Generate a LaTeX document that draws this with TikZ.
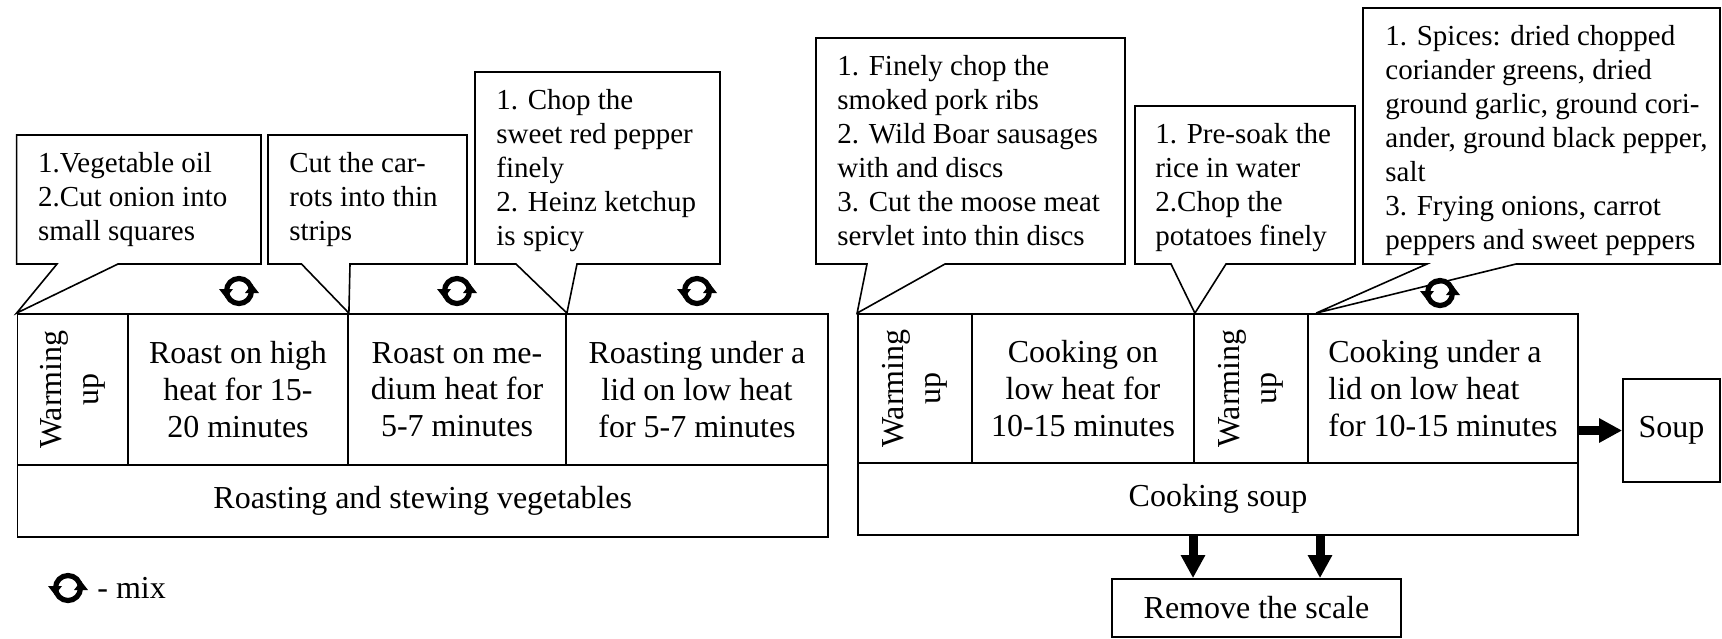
\documentclass[tikz,border=0pt]{standalone}
\usepackage{fontspec}
\setmainfont{LiberationSerif}[Extension=.ttf, UprightFont=*-Regular, BoldFont=*-Bold, ItalicFont=*-Italic]
\usetikzlibrary{arrows.meta}
\newcommand{\notefont}{\fontsize{14.5}{17}\selectfont}
\newcommand{\cellfont}{\fontsize{16}{18.4}\selectfont}
\begin{document}
\begin{tikzpicture}[x=0.5pt, y=-0.5pt,
  cell/.style={draw, line width=0.9pt, inner sep=0pt, align=center, font=\cellfont},
  warm/.style={rotate=90, inner sep=0pt, align=center, font=\cellfont},
  note/.style={anchor=north west, inner sep=0pt, align=left, font=\notefont},
  bubble/.style={draw, line width=0.8pt, line join=miter},
  fat/.style={line width=4.5pt, -{Triangle[length=11.5pt, width=11.5pt]}},
  mixicon/.pic={
    \draw[line width=2.6pt] (0,0) circle[radius=12.5];
    \fill (-20,-2) -- (-6,-2) -- (-13,7) -- cycle;
    \fill (20,2) -- (6,2) -- (13,-7) -- cycle;
  }
]
\useasboundingbox (0,0) rectangle (1722,638);
% roasting table
\node[cell, minimum width=55.25pt, minimum height=75.5pt] (lw) at (72.75,389.5) {};
\node[warm] (lwt) at (lw) {Warming\\up};
\node[cell, minimum width=110pt, minimum height=75.5pt] (l1) at (238,389.5) {Roast on high\\heat for 15-\\20 minutes};
\node[cell, minimum width=109pt, minimum height=75.5pt] (l2) at (457,389.5) {Roast on me-\\dium heat for\\5-7 minutes};
\node[cell, minimum width=131pt, minimum height=75.5pt] (l3) at (697,389.5) {Roasting under a\\lid on low heat\\for 5-7 minutes};
\node[cell, minimum width=405.25pt, minimum height=36pt] (lbar) at (422.75,501) {Roasting and stewing vegetables};
% soup table
\node[cell, minimum width=57pt, minimum height=74.5pt] (rw1) at (915,388.5) {};
\node[warm] (rw1t) at (rw1) {Warming\\up};
\node[cell, minimum width=111pt, minimum height=74.5pt] (r1) at (1083,388.5) {Cooking on\\low heat for\\10-15 minutes};
\node[cell, minimum width=57pt, minimum height=74.5pt] (rw2) at (1251,388.5) {};
\node[warm] (rw2t) at (rw2) {Warming\\up};
\node[cell, minimum width=135pt, minimum height=74.5pt, align=left] (r2) at (1443,388.5) {Cooking under a\\lid on low heat\\for 10-15 minutes};
\node[cell, minimum width=360pt, minimum height=36pt] (rbar) at (1218,499) {Cooking soup};
\node[cell, minimum width=48.5pt, minimum height=51.5pt] (soup) at (1671.5,430.5) {Soup};
\node[cell, minimum width=144.5pt, minimum height=29pt] (descale) at (1256.5,608) {Remove the scale};
\draw[fat] (r2.east |- soup.west) -- (soup.west);
\draw[fat] ([xshift=-31.75pt]descale.north |- rbar.south) -- ([xshift=-31.75pt]descale.north);
\draw[fat] ([xshift=31.75pt]descale.north |- rbar.south) -- ([xshift=31.75pt]descale.north);
% callouts
\draw[bubble] (16.6,135) -- (261,135) -- (261,264) -- (118,264) -- (lw.north west) -- (57,264) -- (16.6,264) -- cycle;
\node[note] (n1) at (37.6,152) {1.Vegetable oil\\2.Cut onion into\\small squares};
\draw[bubble] (268,135) -- (467,135) -- (467,264) -- (350,264) -- (l1.north east) -- (301.5,264) -- (268,264) -- cycle;
\node[note] (n2) at (289,152) {Cut the car-\\rots into thin\\strips};
\draw[bubble] (475,72) -- (720,72) -- (720,264) -- (577,264) -- (l2.north east) -- (516,264) -- (475,264) -- cycle;
\node[note] (n3) at (496,89) {1. Chop the\\sweet red pepper\\finely\\2. Heinz ketchup\\is spicy};
\draw[bubble] (816,38) -- (1125,38) -- (1125,264) -- (945,264) -- (rw1.north west) -- (867,264) -- (816,264) -- cycle;
\node[note] (n4) at (837,55) {1. Finely chop the\\smoked pork ribs\\2. Wild Boar sausages\\with and discs\\3. Cut the moose meat\\servlet into thin discs};
\draw[bubble] (1135,106) -- (1355,106) -- (1355,264) -- (1226,264) -- (r1.north east) -- (1171,264) -- (1135,264) -- cycle;
\node[note] (n5) at (1155,123) {1. Pre-soak the\\rice in water\\2.Chop the\\potatoes finely};
\draw[bubble] (1363,8) -- (1720,8) -- (1720,264) -- (1516,264) -- ([xshift=4.5pt]r2.north west) -- (1427,264) -- (1363,264) -- cycle;
\node[note] (n6) at (1385,25) {1. Spices: dried chopped\\coriander greens, dried\\ground garlic, ground cori-\\ander, ground black pepper,\\salt\\3. Frying onions, carrot\\peppers and sweet peppers};
% mixing marks
\pic at (239,291) {mixicon};
\pic at (457,291) {mixicon};
\pic at (697,291) {mixicon};
\pic at (1440,293) {mixicon};
\pic at (68,588) {mixicon};
\node[anchor=base west, inner sep=0pt, font=\cellfont] (legend) at (97,598) {- mix};
\end{tikzpicture}
\end{document}
